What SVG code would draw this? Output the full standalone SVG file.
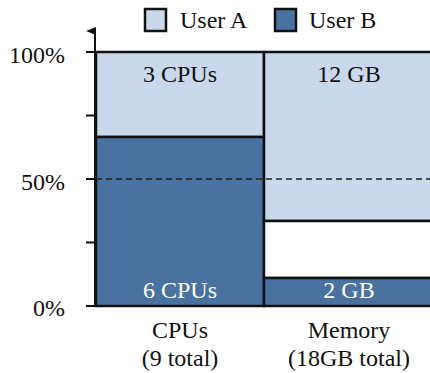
<svg xmlns="http://www.w3.org/2000/svg" width="430" height="373" viewBox="0 0 430 373">
<defs>
<style>
text{font-family:"Liberation Serif","Times New Roman",serif;font-size:24px;fill:#111}
.a{fill:#c9d8ea;stroke:#111;stroke-width:2.5}
.b{fill:#4a72a0;stroke:#111;stroke-width:2.5}
.w{fill:#fff;stroke:#111;stroke-width:2.5}
.ax{stroke:#111;stroke-width:2;fill:none}
.c{text-anchor:middle}
.r{text-anchor:end}
.wt{fill:#fff}
</style>
<marker id="arr" markerWidth="8" markerHeight="10" refX="4" refY="9" orient="auto" markerUnits="userSpaceOnUse" viewBox="0 0 8 10">
<path d="M0,10 L4,0 L8,10 Z" fill="#111"/>
</marker>
</defs>
<g id="legend">
<rect x="145" y="9" width="21" height="22" class="a" stroke-width="2"/>
<text x="180" y="28">User A</text>
<rect x="275" y="9" width="21" height="22" class="b" stroke-width="2"/>
<text x="309" y="28">User B</text>
</g>
<g id="cpu">
<rect x="96" y="52" width="168" height="85" class="a"/>
<rect x="96" y="137" width="168" height="169" class="b"/>
<text x="180" y="82" class="c">3 CPUs</text>
<text x="180" y="298" class="c wt">6 CPUs</text>
<text x="180" y="338" class="c">CPUs</text>
<text x="180" y="366" class="c">(9 total)</text>
</g>
<g id="memory">
<rect x="264" y="52" width="180" height="169" class="a"/>
<rect x="264" y="221" width="180" height="57" class="w"/>
<rect x="264" y="278" width="180" height="28" class="b"/>
<text x="349" y="82" class="c">12 GB</text>
<text x="349" y="298" class="c wt">2 GB</text>
<text x="349" y="338" class="c">Memory</text>
<text x="349" y="366" class="c">(18GB total)</text>
</g>
<g id="axis">
<line x1="95" y1="307" x2="95" y2="31" class="ax" marker-end="url(#arr)"/>
<line x1="86" y1="52" x2="96" y2="52" class="ax"/>
<line x1="86" y1="115.5" x2="96" y2="115.5" class="ax"/>
<line x1="86" y1="179" x2="96" y2="179" class="ax"/>
<line x1="86" y1="242.5" x2="96" y2="242.5" class="ax"/>
<line x1="86" y1="306" x2="430" y2="306" class="ax"/>
<text x="65" y="63" class="r">100%</text>
<text x="65" y="190" class="r">50%</text>
<text x="65" y="316" class="r">0%</text>
</g>
<g id="connectors">
<line x1="96" y1="179" x2="430" y2="179" stroke="#222" stroke-width="1.5" stroke-dasharray="6,4"/>
</g>
</svg>
